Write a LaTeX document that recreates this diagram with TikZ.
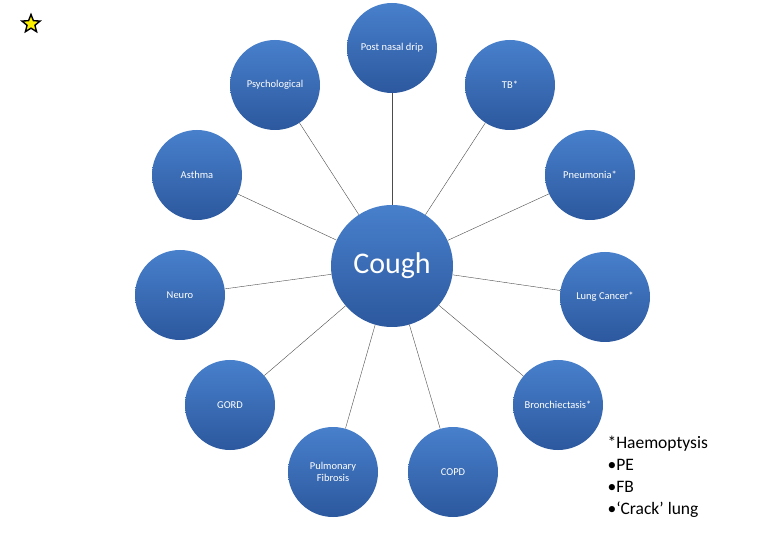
\documentclass[tikz,border=0pt]{standalone}
\usepackage{fontspec}
\setmainfont{Carlito}
\usetikzlibrary{shapes.geometric}
\definecolor{bubtop}{RGB}{72,128,204}
\definecolor{bubbot}{RGB}{44,88,158}
\begin{document}
\begin{tikzpicture}[
    x=1pt,y=-1pt,
    bub/.style={circle,inner sep=0pt,minimum size=90pt,top color=bubtop,bottom color=bubbot,
        text=white,font=\fontsize{10.5}{11.5}\selectfont,align=center},
    link/.style={draw=black!70,thin},
]
    \useasboundingbox (0,0) rectangle (780,540);
    \node[bub,minimum size=122pt,font=\fontsize{30}{31}\selectfont] (cough) at (392,266) {Cough};
    \node[bub] (pnd) at (392,48) {Post nasal drip};
    \node[bub] (tb) at (510,85) {TB*};
    \node[bub] (psy) at (275,85) {Psychological};
    \node[bub] (pneu) at (590,175) {Pneumonia*};
    \node[bub] (asth) at (197,175) {Asthma};
    \node[bub] (neuro) at (180,295) {Neuro};
    \node[bub] (lca) at (605,297) {Lung Cancer*};
    \node[bub] (gord) at (230,405) {GORD};
    \node[bub] (bronch) at (558,405) {Bronchiectasis*};
    \node[bub] (pf) at (333,472) {Pulmonary\\Fibrosis};
    \node[bub] (copd) at (453,472) {COPD};
    \foreach \n in {pnd,tb,psy,pneu,asth,neuro,lca,gord,bronch,pf,copd}
        \draw[link] (cough) -- (\n);
    % star in the corner
    \node[star,star points=5,star point ratio=2.3,draw=black,line width=1.4pt,fill=yellow,
        minimum size=19pt,inner sep=0pt] (mark) at (31,24) {};
    \node[anchor=north west,align=left,font=\fontsize{17.5}{21.7}\selectfont] (notes) at (604,433)
        {*Haemoptysis\\•PE\\•FB\\•‘Crack’ lung};
\end{tikzpicture}
\end{document}
